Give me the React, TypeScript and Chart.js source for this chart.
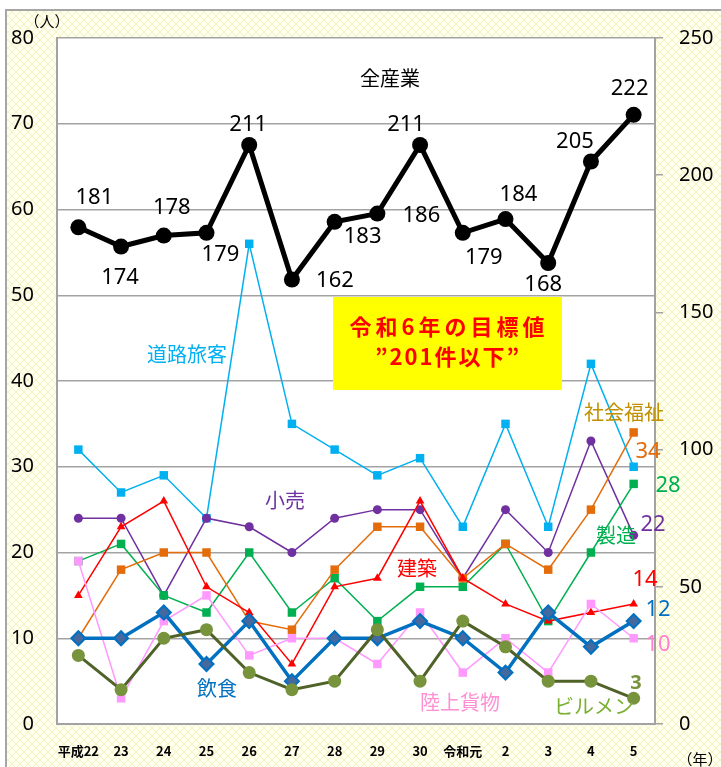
import React, { useEffect, useRef } from 'react';
import { Chart, registerables } from 'chart.js';

Chart.register(...registerables);

// ---- data ----
const categories = ['平成22', '23', '24', '25', '26', '27', '28', '29', '30', '令和元', '2', '3', '4', '5'];
const allIndustry = [181, 174, 178, 179, 211, 162, 183, 186, 211, 179, 184, 168, 205, 222];
const roadPassenger = [32, 27, 29, 24, 56, 35, 32, 29, 31, 23, 35, 23, 42, 30];
const retail = [24, 24, 15, 24, 23, 20, 24, 25, 25, 17, 25, 20, 33, 22];
const construction = [15, 23, 26, 16, 13, 7, 16, 17, 26, 17, 14, 12, 13, 14];
const socialWelfare = [10, 18, 20, 20, 12, 11, 18, 23, 23, 17, 21, 18, 25, 34];
const manufacturing = [19, 21, 15, 13, 20, 13, 17, 12, 16, 16, 21, 12, 20, 28];
const food = [10, 10, 13, 7, 12, 5, 10, 10, 12, 10, 6, 13, 9, 12];
const landCargo = [19, 3, 12, 15, 8, 10, 10, 7, 13, 6, 10, 6, 14, 10];
const buildingMaint = [8, 4, 10, 11, 6, 4, 5, 11, 5, 12, 9, 5, 5, 3];

const leftAxisRange = [0, 80, 10];
const rightAxisRange = [0, 250, 50];

const targetLines = ['令和6年の目標値', '”201件以下”'];

// ---- styles (label offsets for 全産業 values, px) ----
const totalLabelOffsets: [number, number][] = [
  [16, -30], [-1, 31], [8, -28], [14, 22], [-1, -20], [43, 1], [28, 15],
  [44, 2], [-14, -20], [21, 25], [13, -24], [-5, 22], [-16, -20], [-4, -26],
];

const JP = "'Noto Sans CJK JP', 'Noto Sans', sans-serif";
const NUM = "'Noto Sans', 'Noto Sans CJK JP', sans-serif";
const GRID = '#a3a3a3';

function makePattern(): CanvasPattern | string {
  const c = document.createElement('canvas');
  c.width = 8;
  c.height = 8;
  const g = c.getContext('2d');
  if (!g) return '#ffffe6';
  g.fillStyle = '#ffffee';
  g.fillRect(0, 0, 8, 8);
  g.strokeStyle = '#f2f2c4';
  g.lineWidth = 1;
  g.beginPath();
  g.moveTo(0, 0); g.lineTo(8, 8);
  g.moveTo(8, 0); g.lineTo(0, 8);
  g.stroke();
  const p = g.createPattern(c, 'repeat');
  return p || '#ffffe6';
}

export default function App() {
  const ref = useRef<HTMLCanvasElement | null>(null);

  useEffect(() => {
    document.body.style.margin = '0';
    const canvas = ref.current;
    if (!canvas) return;
    const pattern = makePattern();

    const bgPlugin = {
      id: 'bgPlugin',
      beforeDraw(chart: any) {
        const { ctx, chartArea, width, height } = chart;
        ctx.save();
        ctx.fillStyle = '#ffffff';
        ctx.fillRect(0, 0, width, height);
        ctx.fillStyle = pattern;
        ctx.fillRect(6, 10, width - 6, height - 10);
        ctx.strokeStyle = '#a6a6a6';
        ctx.lineWidth = 2;
        ctx.beginPath();
        ctx.moveTo(6, height);
        ctx.lineTo(6, 10);
        ctx.lineTo(width, 10);
        ctx.stroke();
        ctx.fillStyle = '#ffffff';
        ctx.fillRect(chartArea.left, chartArea.top, chartArea.right - chartArea.left, chartArea.bottom - chartArea.top);
        ctx.restore();
      },
    };

    const labelPlugin = {
      id: 'labelPlugin',
      afterDatasetsDraw(chart: any) {
        const { ctx } = chart;
        const meta = chart.getDatasetMeta(0);
        ctx.save();
        ctx.textAlign = 'center';
        ctx.textBaseline = 'middle';
        // 全産業 values
        ctx.fillStyle = '#000';
        ctx.font = `22px ${NUM}`;
        meta.data.forEach((pt: any, i: number) => {
          const [dx, dy] = totalLabelOffsets[i];
          ctx.fillText(String(allIndustry[i]), pt.x + dx, pt.y + dy);
        });

        const txt = (t: string, x: number, y: number, color: string, font: string) => {
          ctx.fillStyle = color;
          ctx.font = font;
          ctx.fillText(t, x, y);
        };
        const nameFont = `20px ${JP}`;
        txt('全産業', 390, 78, '#000', nameFont);
        txt('道路旅客', 187, 354, '#00b0f0', nameFont);
        txt('小売', 285, 500, '#7030a0', nameFont);
        txt('建築', 417, 568, '#ff0000', nameFont);
        txt('飲食', 217, 688, '#0070c0', nameFont);
        txt('陸上貨物', 460, 702, '#ff8fd2', nameFont);
        txt('ビルメン', 594, 706, '#79b030', nameFont);
        txt('社会福祉', 624, 412, '#c09000', nameFont);
        txt('製造', 616, 535, '#00b050', nameFont);

        const valFont = `22px ${NUM}`;
        txt(String(socialWelfare[13]), 648, 452, '#e46c0a', valFont);
        txt(String(manufacturing[13]), 668, 486, '#00b050', valFont);
        txt(String(retail[13]), 653, 525, '#7030a0', valFont);
        txt(String(construction[13]), 645, 580, '#ff0000', valFont);
        txt(String(food[13]), 658, 610, '#0070c0', valFont);
        txt(String(landCargo[13]), 658, 645, '#ff7fd0', valFont);
        txt(String(buildingMaint[13]), 636, 683, '#77933c', `bold 20px ${NUM}`);

        // units
        txt('（人）', 47, 21, '#000', `15px ${JP}`);
        txt('（年）', 700, 759, '#000', `15px ${JP}`);

        // target box
        ctx.fillStyle = '#ffff00';
        ctx.fillRect(333, 297, 229, 93);
        ctx.fillStyle = '#ff0000';
        ctx.font = `bold 22px ${JP}`;
        try { (ctx as any).letterSpacing = '4px'; } catch (e) { /* ignore */ }
        ctx.fillText(targetLines[0], 449, 327);
        try { (ctx as any).letterSpacing = '2px'; } catch (e) { /* ignore */ }
        ctx.fillText(targetLines[1], 448, 357);
        try { (ctx as any).letterSpacing = '0px'; } catch (e) { /* ignore */ }
        ctx.restore();
      },
    };

    const thin = (label: string, data: number[], color: string, pointStyle: string, radius: number) => ({
      label,
      data,
      yAxisID: 'y',
      borderColor: color,
      backgroundColor: color,
      borderWidth: 1.5,
      pointStyle,
      pointRadius: radius,
      pointBorderWidth: 0,
      pointBackgroundColor: color,
      tension: 0,
    });

    const chart = new Chart(canvas, {
      type: 'line',
      data: {
        labels: categories,
        datasets: [
          {
            label: '全産業',
            data: allIndustry,
            yAxisID: 'y2',
            borderColor: '#000000',
            backgroundColor: '#000000',
            borderWidth: 5,
            pointStyle: 'circle',
            pointRadius: 8,
            pointBorderWidth: 0,
            pointBackgroundColor: '#000000',
          },
          {
            label: 'ビルメン',
            data: buildingMaint,
            yAxisID: 'y',
            borderColor: '#4f6228',
            backgroundColor: '#77933c',
            borderWidth: 3,
            pointStyle: 'circle',
            pointRadius: 6.5,
            pointBorderWidth: 0,
            pointBackgroundColor: '#77933c',
          },
          {
            label: '飲食',
            data: food,
            yAxisID: 'y',
            borderColor: '#0070c0',
            backgroundColor: '#44699f',
            borderWidth: 3.5,
            pointStyle: 'rectRot',
            pointRadius: 7,
            pointBorderWidth: 2,
            pointBorderColor: '#0070c0',
            pointBackgroundColor: '#44699f',
          },
          thin('陸上貨物', landCargo, '#ff99ff', 'rect', 6),
          thin('建築', construction, '#ff0000', 'triangle', 5),
          thin('社会福祉', socialWelfare, '#e46c0a', 'rect', 6),
          thin('製造', manufacturing, '#00b050', 'rect', 6),
          thin('小売', retail, '#7030a0', 'circle', 4.5),
          thin('道路旅客', roadPassenger, '#00b0f0', 'rect', 6),
        ] as any,
      },
      options: {
        responsive: false,
        animation: false,
        layout: { padding: { top: 38, left: 0, right: 0, bottom: 0 } },
        plugins: {
          legend: { display: false },
          tooltip: { enabled: false },
        },
        scales: {
          x: {
            type: 'category',
            offset: true,
            grid: { display: false },
            border: { display: true, color: GRID, width: 2 },
            ticks: {
              color: '#000',
              font: { family: JP, size: 13, weight: 'bold' },
              padding: 11,
              maxRotation: 0,
              autoSkip: false,
            },
            afterFit: (axis: any) => { axis.height = 43; },
          },
          y: {
            position: 'left',
            min: leftAxisRange[0],
            max: leftAxisRange[1],
            ticks: {
              stepSize: leftAxisRange[2],
              color: '#000',
              font: { family: NUM, size: 20 },
              padding: 23,
            },
            grid: { color: GRID, lineWidth: 1.5, drawTicks: false },
            border: { display: true, color: GRID, width: 2 },
            afterFit: (axis: any) => { axis.width = 57; },
          },
          y2: {
            position: 'right',
            min: rightAxisRange[0],
            max: rightAxisRange[1],
            ticks: {
              stepSize: rightAxisRange[2],
              color: '#000',
              font: { family: NUM, size: 20 },
              padding: 16,
            },
            grid: { drawOnChartArea: false, color: GRID, tickLength: 8, lineWidth: 1.5 },
            border: { display: true, color: GRID, width: 2 },
            afterFit: (axis: any) => { axis.width = 66; },
          },
        },
      } as any,
      plugins: [bgPlugin, labelPlugin],
    });

    return () => chart.destroy();
  }, []);

  return <canvas ref={ref} width={721} height={767} style={{ display: 'block' }} />;
}
